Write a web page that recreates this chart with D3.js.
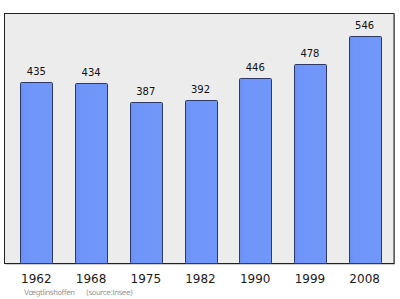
<!DOCTYPE html>
<html>
<head>
<meta charset="utf-8">
<script src="https://cdn.jsdelivr.net/npm/d3@7"></script>
<style>
  body { margin: 0; background: #fff; }
  svg { display: block; }
</style>
</head>
<body>
<div id="chart"></div>
<script>
var years = ["1962", "1968", "1975", "1982", "1990", "1999", "2008"];
var population = [435, 434, 387, 392, 446, 478, 546];
var yDomain = [0, 600];
var footerName = "Vœgtlinshoffen";
var footerSource = "(source:Insee)";

var width = 400, height = 299;
var frame = {left: 4.5, top: 13.5, right: 394, bottom: 263.5};

var svg = d3.select("#chart")
    .append("svg")
    .attr("width", width)
    .attr("height", height)

// plot frame
svg.append("rect")
    .attr("x", frame.left + 1)
    .attr("y", frame.top + 1)
    .attr("width", frame.right - frame.left)
    .attr("height", frame.bottom - frame.top)
    .style("fill", "#9a9a9a")
svg.append("rect")
    .attr("x", frame.left)
    .attr("y", frame.top)
    .attr("width", frame.right - frame.left)
    .attr("height", frame.bottom - frame.top)
    .style("fill", "#ececec")
    .style("stroke", "#222")
    .style("stroke-width", 1)

var x = d3.scaleBand()
    .domain(years)
    .range([9, 392])
    .paddingInner(0.42)
    .paddingOuter(0.21)

var y = d3.scaleLinear()
    .domain(yDomain)
    .range([frame.bottom, frame.top])

var defs = svg.append("defs")
var grad = defs.append("linearGradient")
    .attr("id", "barGrad")
    .attr("x1", "0%").attr("x2", "100%")
grad.append("stop").attr("offset", "0%").attr("stop-color", "#6a8ff0")
grad.append("stop").attr("offset", "15%").attr("stop-color", "#7095fa")
grad.append("stop").attr("offset", "100%").attr("stop-color", "#7097fb")

var data = years.map(function(d, i){ return {year: d, value: population[i]} })

svg.selectAll("rect.bar")
    .data(data)
    .enter()
    .append("rect")
      .attr("class", "bar")
      .attr("x", function(d){ return Math.round(x(d.year)) + 0.5 })
      .attr("y", function(d){ return Math.round(y(d.value)) + 0.5 })
      .attr("width", Math.round(x.bandwidth()))
      .attr("height", function(d){ return frame.bottom - Math.round(y(d.value)) - 0.5 })
      .attr("rx", 1)
      .style("fill", "url(#barGrad)")
      .style("stroke", "#2d3a66")
      .style("stroke-width", 1)

// value labels
svg.selectAll("text.value")
    .data(data)
    .enter()
    .append("text")
      .attr("class", "value")
      .attr("x", function(d){ return x(d.year) + x.bandwidth() / 2 })
      .attr("y", function(d){ return y(d.value) - 7 })
      .attr("text-anchor", "middle")
      .attr("font-family", "DejaVu Sans, sans-serif")
      .attr("font-size", "10px")
      .attr("fill", "#111")
      .text(function(d){ return d.value })

// year labels
svg.selectAll("text.year")
    .data(years)
    .enter()
    .append("text")
      .attr("class", "year")
      .attr("x", function(d){ return x(d) + x.bandwidth() / 2 })
      .attr("y", 283)
      .attr("text-anchor", "middle")
      .attr("font-family", "DejaVu Sans, sans-serif")
      .attr("font-size", "12px")
      .attr("fill", "#1a1a1a")
      .text(function(d){ return d })

// footer
svg.append("text")
    .attr("x", 24)
    .attr("y", 295)
    .attr("font-family", "DejaVu Sans, sans-serif")
    .attr("font-size", "7.5px")
    .attr("textLength", 51)
    .attr("fill", "#999")
    .text(footerName)
svg.append("text")
    .attr("x", 86)
    .attr("y", 295)
    .attr("font-family", "DejaVu Sans, sans-serif")
    .attr("font-size", "7.5px")
    .attr("textLength", 47)
    .attr("fill", "#999")
    .text(footerSource)
</script>
</body>
</html>
